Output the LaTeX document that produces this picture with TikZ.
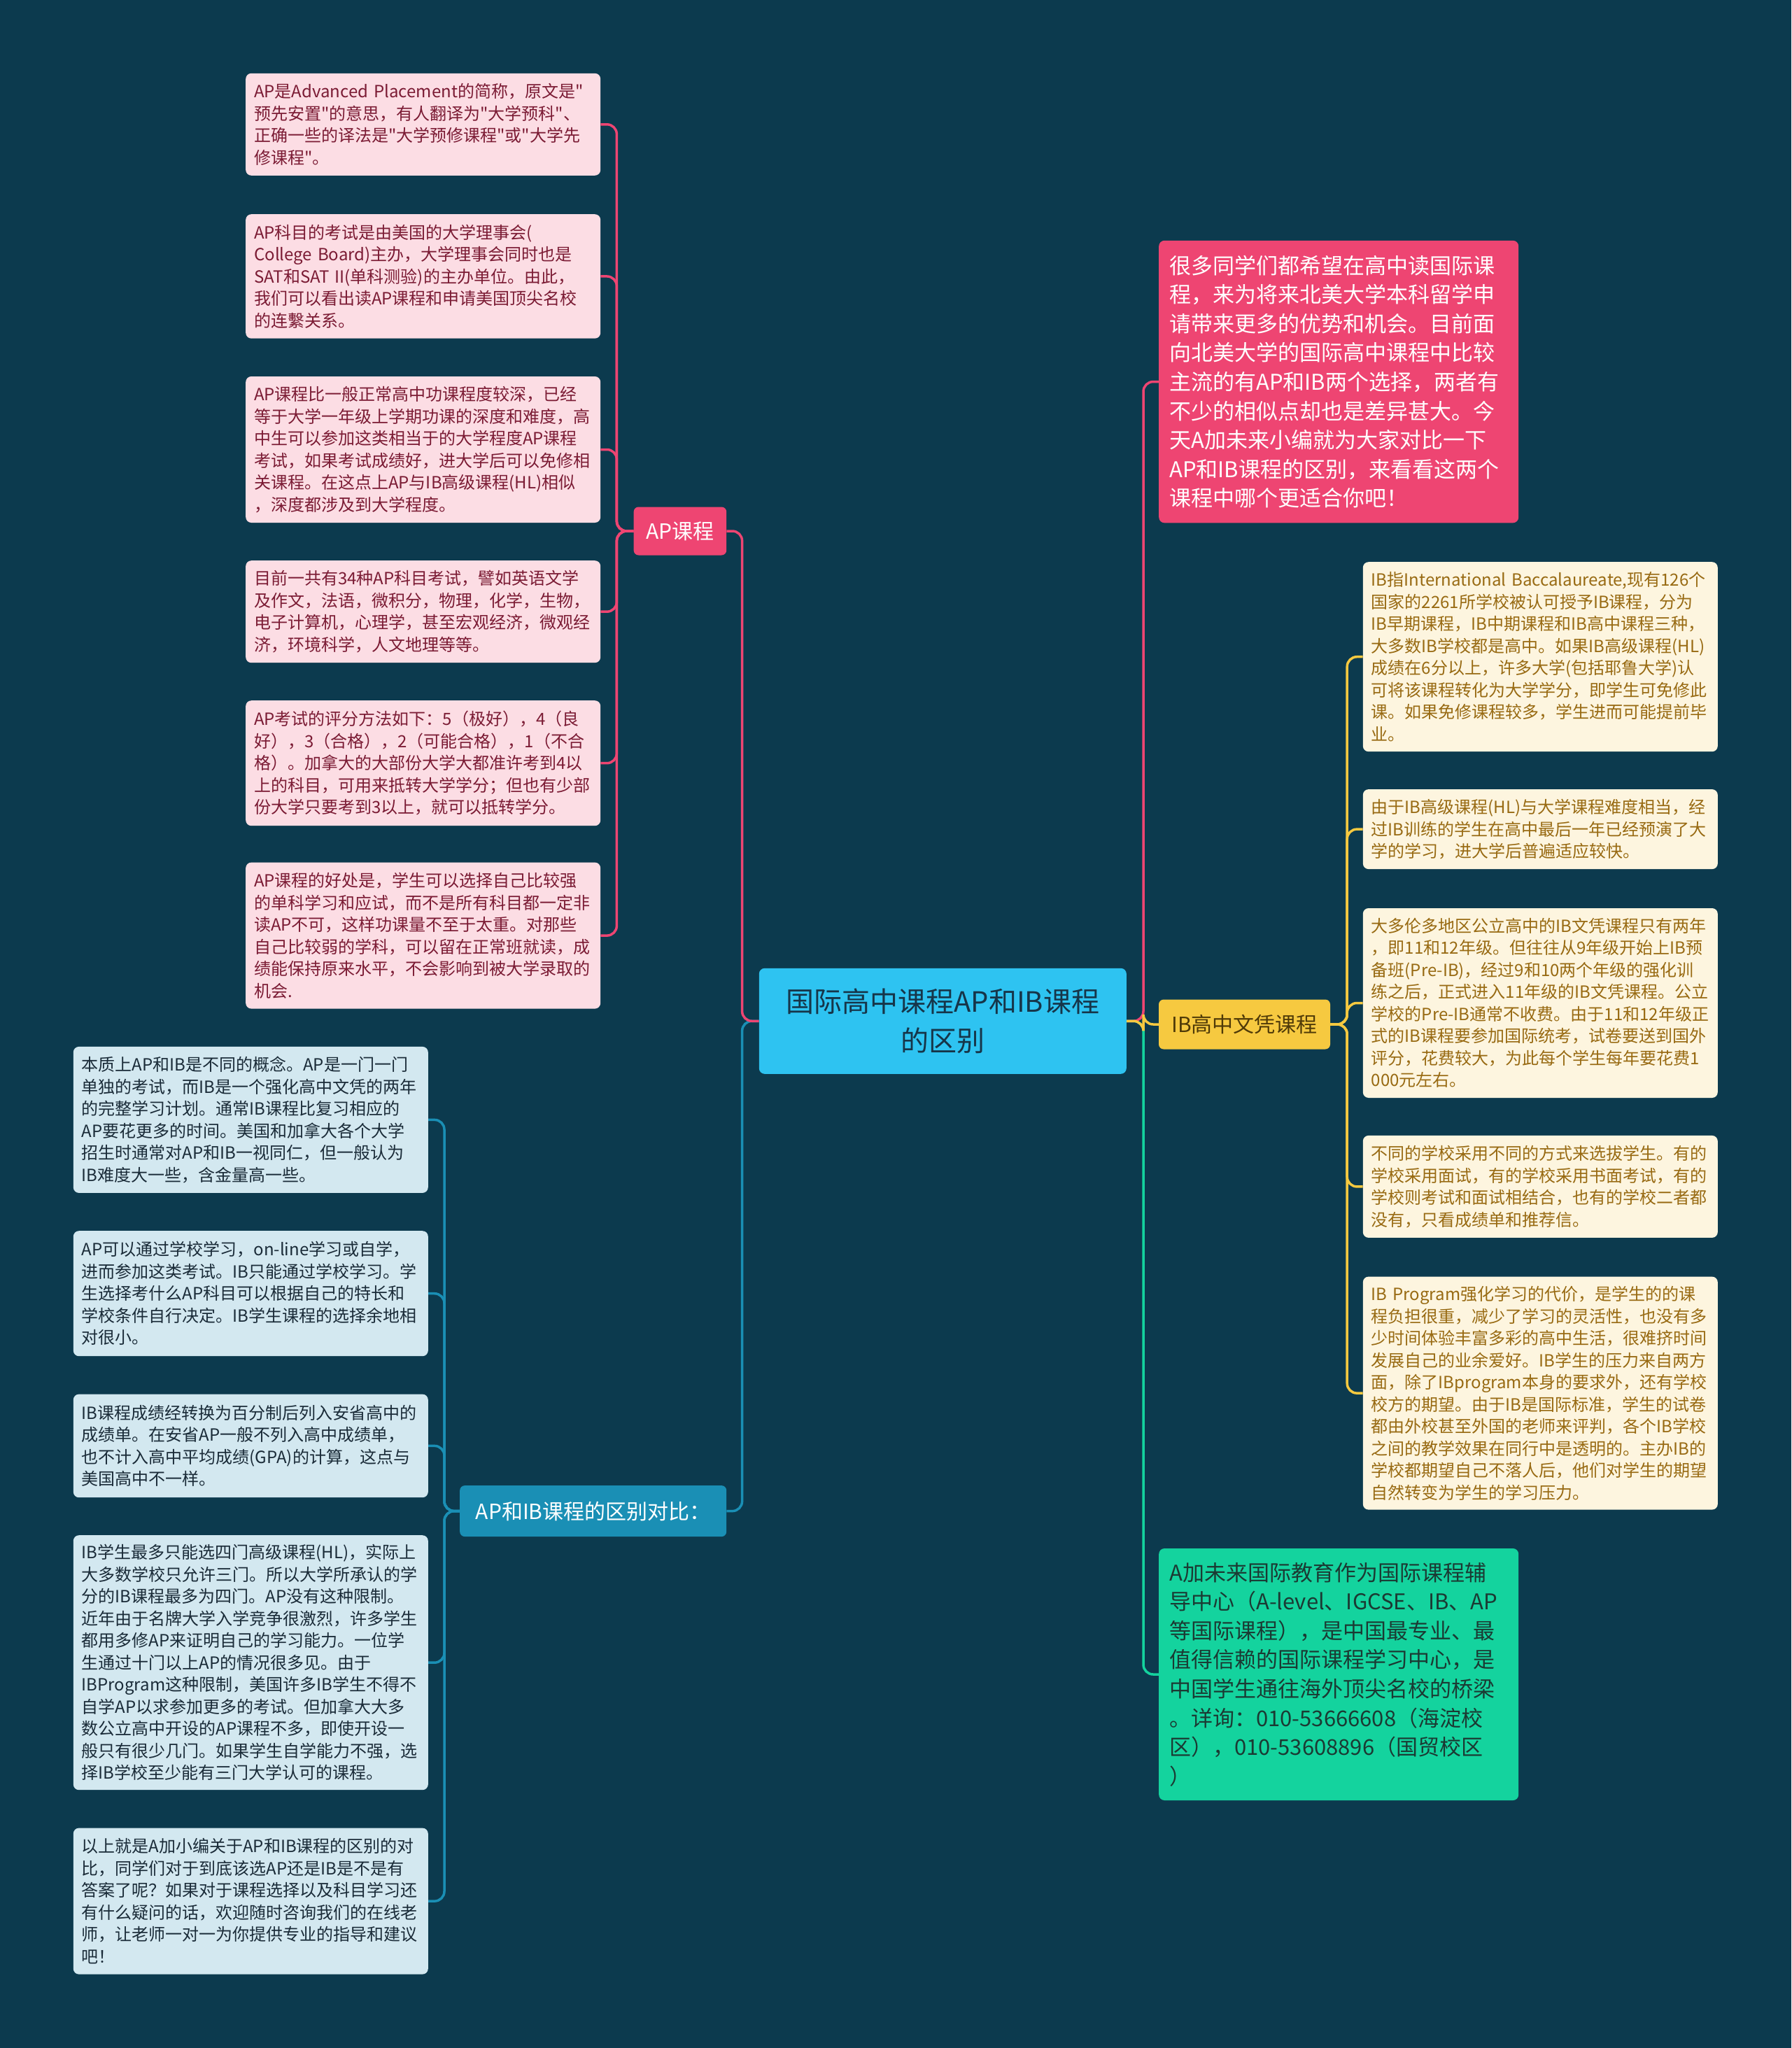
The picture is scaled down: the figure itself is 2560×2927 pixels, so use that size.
\documentclass[tikz,border=0pt]{standalone}
\usepackage{fontspec}
\newfontfamily\cjk{Noto Sans CJK SC}
\definecolor{bg}{HTML}{0C3A4E}
\definecolor{ctrfill}{HTML}{2EC3F1}
\definecolor{ctrtext}{HTML}{163549}
\definecolor{pk}{HTML}{EE4572}
\definecolor{pkleaf}{HTML}{FCDDE4}
\definecolor{pktext}{HTML}{7B1B34}
\definecolor{bl}{HTML}{1A8FB5}
\definecolor{blleaf}{HTML}{D3E8F0}
\definecolor{bltext}{HTML}{1A2B38}
\definecolor{yl}{HTML}{F6C940}
\definecolor{ylleaf}{HTML}{FDF5DF}
\definecolor{yltext}{HTML}{986A12}
\definecolor{ylnodetext}{HTML}{4F3A08}
\definecolor{gn}{HTML}{14D39E}
\definecolor{gntext}{HTML}{1B3A33}
\begin{document}
\begin{tikzpicture}[x=1pt,y=-1pt,
  leafbase/.style={rectangle, rounded corners=8pt, anchor=north west, inner xsep=12pt, inner ysep=0pt,
    text width=483pt, align=left, font=\cjk\fontsize{24}{31.5}\selectfont},
  apleaf/.style={leafbase, fill=pkleaf, text=pktext},
  blleafbox/.style={leafbase, fill=blleaf, text=bltext},
  ylleafbox/.style={leafbase, fill=ylleaf, text=yltext},
  bigbox/.style={rectangle, rounded corners=8pt, anchor=north west, inner xsep=15pt, inner ysep=0pt,
    text width=484pt, align=left, font=\cjk\fontsize{31}{41.6}\selectfont},
  branch/.style={rectangle, rounded corners=7pt, inner sep=0pt, align=center, font=\cjk\fontsize{30}{36}\selectfont},
  conn/.style={line width=3.5pt, rounded corners=14pt},
  pkline/.style={conn, draw=pk},
  blline/.style={conn, draw=bl},
  ylline/.style={conn, draw=yl},
  gnline/.style={conn, draw=gn}]
\fill[bg] (0,0) rectangle (2560,2927);
\path[use as bounding box] (0,0) rectangle (2560,2927);

% center
\node[rectangle, rounded corners=8pt, fill=ctrfill, text=ctrtext, inner sep=0pt, align=center,
  font=\cjk\fontsize{40}{56}\selectfont, minimum width=525pt, minimum height=151pt] (c) at (1347.3,1459.3)
  {国际高中课程AP和IB课程\\的区别};

% branches
\node[branch, fill=pk, text=white, minimum width=132.6pt, minimum height=69pt] (ap) at (971.9,759) {AP课程};
\node[branch, fill=bl, text=white, minimum width=381pt, minimum height=73pt] (cmp) at (847.7,2159.6) {AP和IB课程的区别对比：};
\node[branch, fill=yl, text=ylnodetext, minimum width=245pt, minimum height=71pt] (ib) at (1778.5,1464) {IB高中文凭课程};

\node[bigbox, fill=pk, text=white, minimum height=403.5pt] (intro) at (1656,343.6)
{很多同学们都希望在高中读国际课\\
程，来为将来北美大学本科留学申\\
请带来更多的优势和机会。目前面\\
向北美大学的国际高中课程中比较\\
主流的有AP和IB两个选择，两者有\\
不少的相似点却也是差异甚大。今\\
天A加未来小编就为大家对比一下\\
AP和IB课程的区别，来看看这两个\\
课程中哪个更适合你吧！};

\node[bigbox, fill=gn, text=gntext, minimum height=360pt] (ad) at (1656,2212.8)
{A加未来国际教育作为国际课程辅\\
导中心（A-level、IGCSE、IB、AP\\
等国际课程），是中国最专业、最\\
值得信赖的国际课程学习中心，是\\
中国学生通往海外顶尖名校的桥梁\\
。详询：010-53666608（海淀校\\
区），010-53608896（国贸校区\\
）};

% AP leaves
\node[apleaf, minimum height=146pt] (a1) at (351,104.6)
{AP是Advanced~Placement的简称，原文是"\\
预先安置"的意思，有人翻译为"大学预科"、\\
正确一些的译法是"大学预修课程"或"大学先\\
修课程"。};
\node[apleaf, minimum height=177.5pt] (a2) at (351,306)
{AP科目的考试是由美国的大学理事会(\\
College~Board)主办，大学理事会同时也是\\
SAT和SAT~II(单科测验)的主办单位。由此，\\
我们可以看出读AP课程和申请美国顶尖名校\\
的连繫关系。};
\node[apleaf, minimum height=209pt] (a3) at (351,537.8)
{AP课程比一般正常高中功课程度较深，已经\\
等于大学一年级上学期功课的深度和难度，高\\
中生可以参加这类相当于的大学程度AP课程\\
考试，如果考试成绩好，进大学后可以免修相\\
关课程。在这点上AP与IB高级课程(HL)相似\\
，深度都涉及到大学程度。};
\node[apleaf, minimum height=146pt] (a4) at (351,801)
{目前一共有34种AP科目考试，譬如英语文学\\
及作文，法语，微积分，物理，化学，生物，\\
电子计算机，心理学，甚至宏观经济，微观经\\
济，环境科学，人文地理等等。};
\node[apleaf, minimum height=179pt] (a5) at (351,1001)
{AP考试的评分方法如下：5（极好），4（良\\
好），3（合格），2（可能合格），1（不合\\
格）。加拿大的大部份大学大都准许考到4以\\
上的科目，可用来抵转大学学分；但也有少部\\
份大学只要考到3以上，就可以抵转学分。};
\node[apleaf, minimum height=209pt] (a6) at (351,1232.4)
{AP课程的好处是，学生可以选择自己比较强\\
的单科学习和应试，而不是所有科目都一定非\\
读AP不可，这样功课量不至于太重。对那些\\
自己比较弱的学科，可以留在正常班就读，成\\
绩能保持原来水平，不会影响到被大学录取的\\
机会.};

% comparison leaves
\node[blleafbox, minimum height=209pt] (b1) at (104.6,1495.7)
{本质上AP和IB是不同的概念。AP是一门一门\\
单独的考试，而IB是一个强化高中文凭的两年\\
的完整学习计划。通常IB课程比复习相应的\\
AP要花更多的时间。美国和加拿大各个大学\\
招生时通常对AP和IB一视同仁，但一般认为\\
IB难度大一些，含金量高一些。};
\node[blleafbox, minimum height=179pt] (b2) at (104.6,1759)
{AP可以通过学校学习，on-line学习或自学，\\
进而参加这类考试。IB只能通过学校学习。学\\
生选择考什么AP科目可以根据自己的特长和\\
学校条件自行决定。IB学生课程的选择余地相\\
对很小。};
\node[blleafbox, minimum height=147.6pt] (b3) at (104.6,1992.4)
{IB课程成绩经转换为百分制后列入安省高中的\\
成绩单。在安省AP一般不列入高中成绩单，\\
也不计入高中平均成绩(GPA)的计算，这点与\\
美国高中不一样。};
\node[blleafbox, minimum height=364pt] (b4) at (104.6,2194)
{IB学生最多只能选四门高级课程(HL)，实际上\\
大多数学校只允许三门。所以大学所承认的学\\
分的IB课程最多为四门。AP没有这种限制。\\
近年由于名牌大学入学竞争很激烈，许多学生\\
都用多修AP来证明自己的学习能力。一位学\\
生通过十门以上AP的情况很多见。由于\\
IBProgram这种限制，美国许多IB学生不得不\\
自学AP以求参加更多的考试。但加拿大大多\\
数公立高中开设的AP课程不多，即使开设一\\
般只有很少几门。如果学生自学能力不强，选\\
择IB学校至少能有三门大学认可的课程。};
\node[blleafbox, minimum height=209pt] (b5) at (104.6,2612.4)
{以上就是A加小编关于AP和IB课程的区别的对\\
比，同学们对于到底该选AP还是IB是不是有\\
答案了呢？如果对于课程选择以及科目学习还\\
有什么疑问的话，欢迎随时咨询我们的在线老\\
师，让老师一对一为你提供专业的指导和建议\\
吧！};

% IB leaves
\node[ylleafbox, minimum height=271pt] (i1) at (1947.6,803)
{IB指International~Baccalaureate,现有126个\\
国家的2261所学校被认可授予IB课程，分为\\
IB早期课程，IB中期课程和IB高中课程三种，\\
大多数IB学校都是高中。如果IB高级课程(HL)\\
成绩在6分以上，许多大学(包括耶鲁大学)认\\
可将该课程转化为大学学分，即学生可免修此\\
课。如果免修课程较多，学生进而可能提前毕\\
业。};
\node[ylleafbox, minimum height=114pt] (i2) at (1947.6,1127.9)
{由于IB高级课程(HL)与大学课程难度相当，经\\
过IB训练的学生在高中最后一年已经预演了大\\
学的学习，进大学后普遍适应较快。};
\node[ylleafbox, minimum height=271pt] (i3) at (1947.6,1297.8)
{大多伦多地区公立高中的IB文凭课程只有两年\\
，即11和12年级。但往往从9年级开始上IB预\\
备班(Pre-IB)，经过9和10两个年级的强化训\\
练之后，正式进入11年级的IB文凭课程。公立\\
学校的Pre-IB通常不收费。由于11和12年级正\\
式的IB课程要参加国际统考，试卷要送到国外\\
评分，花费较大，为此每个学生每年要花费1\\
000元左右。};
\node[ylleafbox, minimum height=146pt] (i4) at (1947.6,1622.7)
{不同的学校采用不同的方式来选拔学生。有的\\
学校采用面试，有的学校采用书面考试，有的\\
学校则考试和面试相结合，也有的学校二者都\\
没有，只看成绩单和推荐信。};
\node[ylleafbox, minimum height=333pt] (i5) at (1947.6,1824.4)
{IB~Program强化学习的代价，是学生的的课\\
程负担很重，减少了学习的灵活性，也没有多\\
少时间体验丰富多彩的高中生活，很难挤时间\\
发展自己的业余爱好。IB学生的压力来自两方\\
面，除了IBprogram本身的要求外，还有学校\\
校方的期望。由于IB是国际标准，学生的试卷\\
都由外校甚至外国的老师来评判，各个IB学校\\
之间的教学效果在同行中是透明的。主办IB的\\
学校都期望自己不落人后，他们对学生的期望\\
自然转变为学生的学习压力。};

% connectors
\draw[blline] (c.west) -- ++(-24,0) |- (cmp.east);
\draw[pkline] (c.west) -- ++(-24,0) |- (ap.east);
\draw[gnline] (c.east) -- ++(24,0) |- (ad.west);
\draw[pkline] (c.east) -- ++(24,0) |- (intro.west);
\draw[ylline] (c.east) -- ++(24,0) |- (ib.west);
\foreach \i in {1,...,6} \draw[pkline] (ap.west) -- ++(-24,0) |- (a\i.east);
\foreach \i in {1,...,5} \draw[blline] (cmp.west) -- ++(-22,0) |- (b\i.east);
\foreach \i in {1,...,5} \draw[ylline] (ib.east) -- ++(24,0) |- (i\i.west);
\end{tikzpicture}
\end{document}
